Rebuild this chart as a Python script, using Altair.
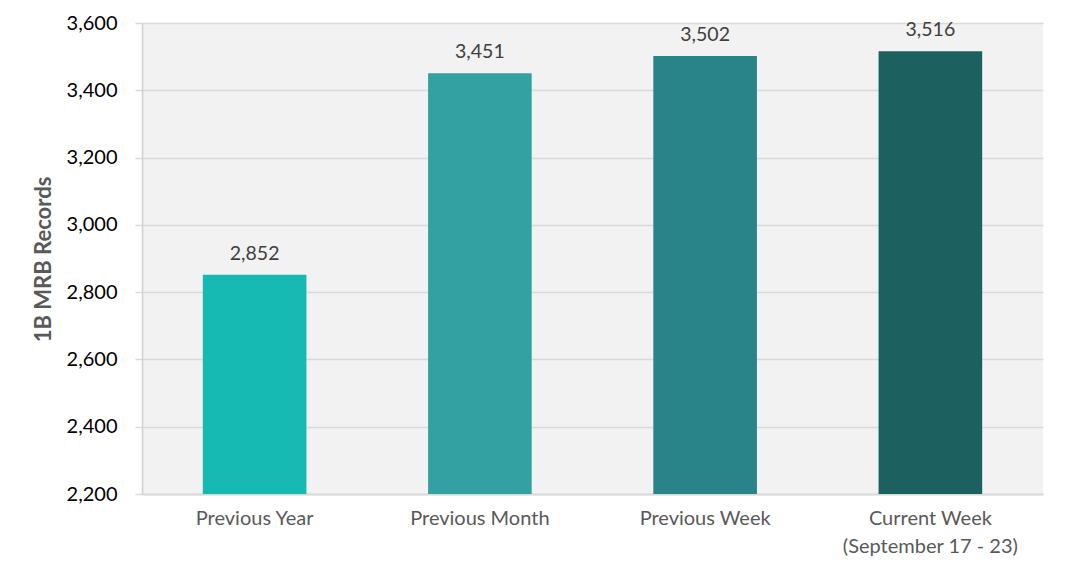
import altair as alt
import pandas as pd

categories = ["Previous Year", "Previous Month", "Previous Week", "Current Week\n(September 17 - 23)"]
values = [2852, 3451, 3502, 3516]
colors = ["#17BAB3", "#33A0A1", "#298489", "#1C6060"]
y_ticks = [2200, 2400, 2600, 2800, 3000, 3200, 3400, 3600]

df = pd.DataFrame({"cat": categories, "val": values, "color": colors})

FONT = "Lato"

x = alt.X("cat:N", sort=categories, title=None,
          scale=alt.Scale(paddingInner=0.54, paddingOuter=0.27),
          axis=alt.Axis(labelExpr="split(datum.label, '\\n')", labelAngle=0,
                        labelFont=FONT, labelFontSize=20, labelColor="#595959",
                        labelPadding=14, labelLineHeight=28, ticks=False,
                        domainColor="#D9D9D9", domainWidth=2, grid=False))
y = alt.Y("val:Q", title="1B MRB Records",
          scale=alt.Scale(domain=[2200, 3600], nice=False, zero=False),
          axis=alt.Axis(values=y_ticks, format=",.0f", labelFont=FONT, labelFontSize=20,
                        labelColor="#000000", labelPadding=18, tickSize=7,
                        tickColor="#D9D9D9", tickWidth=1.5,
                        gridColor="#D9D9D9", gridWidth=1.5,
                        domainColor="#D0D0D0", domainWidth=1.5,
                        titleFont=FONT, titleFontSize=22, titleFontWeight="bold",
                        titleColor="#595959", titleX=-99, titleY=236,
                        titleAlign="center", titleBaseline="middle", titleAngle=270))

bars = alt.Chart(df).mark_bar(clip=True).encode(
    x=x, y=y, color=alt.Color("color:N", scale=None))

labels = alt.Chart(df).mark_text(font=FONT, fontSize=19.5, color="#404040",
                                 baseline="alphabetic", dy=-15).encode(
    x=x, y=y, text=alt.Text("val:Q", format=",.0f"))

chart = alt.layer(bars, labels).properties(
    width=901, height=471,
    autosize=alt.AutoSizeParams(type="none"),
    padding={"left": 134, "top": 15, "right": 15, "bottom": 74},
    background="#FFFFFF",
).configure_view(fill="#F2F2F2", stroke=None)

chart.save("out.html", embed_options={"renderer": "svg", "actions": False})
